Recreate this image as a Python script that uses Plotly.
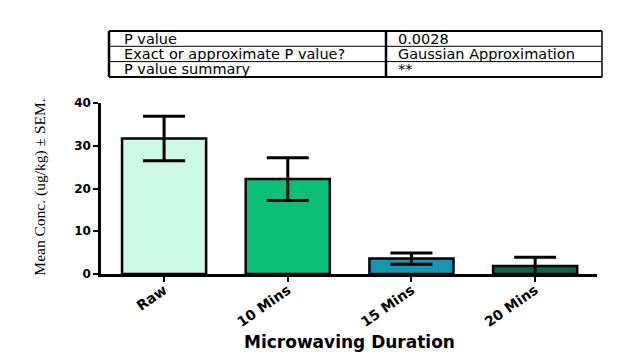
import plotly.graph_objects as go

# ---- data ----
categories = ["Raw", "10 Mins", "15 Mins", "20 Mins"]
means = [31.7, 22.2, 3.6, 1.9]
sem = [5.2, 5.0, 1.3, 2.0]
bar_colors = ["#cdf7e6", "#0bbf78", "#1597b3", "#0b6a46"]

table_labels = ["P value", "Exact or approximate P value?", "P value summary"]
table_values = ["0.0028", "Gaussian Approximation", "**"]

y_ticks = [0, 10, 20, 30, 40]

# page body has an 8px margin; compensate so the screen geometry matches
OFF = 8
SW, SH = 642, 357
W, H = SW - OFF, SH - OFF
L, R, T, B = 101 - OFF, 45, 103 - OFF, 83
pw, ph = W - L - R, H - T - B
plot_left_screen, plot_bottom_screen = 101, 274

fig = go.Figure()
fig.add_trace(go.Bar(
    x=categories, y=means,
    marker=dict(color=bar_colors, line=dict(color="black", width=2.5)),
    width=0.68,
    error_y=dict(type="data", array=sem, visible=True, color="black",
                 thickness=3, width=21),
    showlegend=False,
))

fig.update_layout(
    width=W, height=H,
    margin=dict(l=L, r=R, t=T, b=B, autoexpand=False),
    paper_bgcolor="white", plot_bgcolor="white",
    xaxis=dict(range=[-0.51, 3.5], showline=True, linecolor="black", linewidth=2.5,
               ticks="outside", ticklen=5, tickwidth=2, tickcolor="black",
               tickangle=-35, ticklabelstandoff=-5, showgrid=False, zeroline=False,
               tickfont=dict(family="DejaVu Sans", size=14, color="black", weight="bold")),
    yaxis=dict(range=[0, 40], tickvals=y_ticks, showline=True, linecolor="black",
               linewidth=2.5, ticks="outside", ticklen=5, tickwidth=2, tickcolor="black",
               showgrid=False, zeroline=False,
               tickfont=dict(family="DejaVu Sans", size=12, color="black", weight="bold")),
)

annotations = []
annotations.append(dict(text="<b>Microwaving Duration</b>", xref="paper", yref="paper",
                        x=0.5, y=0, yanchor="middle", xanchor="center", yshift=-68,
                        showarrow=False,
                        font=dict(family="DejaVu Sans", size=17, color="black")))
annotations.append(dict(text="Mean Conc. (ug/kg) ± SEM.", xref="paper", yref="paper",
                        x=0, y=0.505, xshift=-61, xanchor="center", yanchor="middle",
                        textangle=-90, showarrow=False,
                        font=dict(family="Liberation Serif", size=15.5, color="black")))

# ---- table (screen pixel geometry converted to paper coords) ----
def px(xp):
    return (xp - plot_left_screen) / pw

def py(yp):
    return (plot_bottom_screen - yp) / ph

tx0, tx1, tdiv = 109, 602, 386
row_edges = [31, 46.3, 61.6, 77]

def seg(x0, x1, y0, y1, w):
    return dict(type="line", xref="paper", yref="paper", x0=px(x0), x1=px(x1),
                y0=py(y0), y1=py(y1), line=dict(color="black", width=w))

shapes = [
    seg(tx0, tx1, row_edges[0], row_edges[0], 2),
    seg(tx0, tx1, row_edges[-1], row_edges[-1], 2),
    seg(tx0, tx0, row_edges[0], row_edges[-1], 2.5),
    seg(tx1, tx1, row_edges[0], row_edges[-1], 1.5),
    seg(tdiv, tdiv, row_edges[0], row_edges[-1], 2.5),
]
for ye in row_edges[1:-1]:
    shapes.append(seg(tx0, tx1, ye, ye, 1))

for i, (lab, val) in enumerate(zip(table_labels, table_values)):
    yc = (row_edges[i] + row_edges[i + 1]) / 2
    annotations.append(dict(text=lab, xref="paper", yref="paper", x=px(tx0 + 13), y=py(yc),
                            xanchor="left", yanchor="middle", showarrow=False,
                            font=dict(family="DejaVu Sans", size=14.5, color="black")))
    annotations.append(dict(text=val, xref="paper", yref="paper", x=px(tdiv + 10),
                            y=py(yc), xanchor="left", yanchor="middle", showarrow=False,
                            font=dict(family="DejaVu Sans", size=14.5, color="black")))

fig.update_layout(annotations=annotations, shapes=shapes)
fig.write_html("out.html")
